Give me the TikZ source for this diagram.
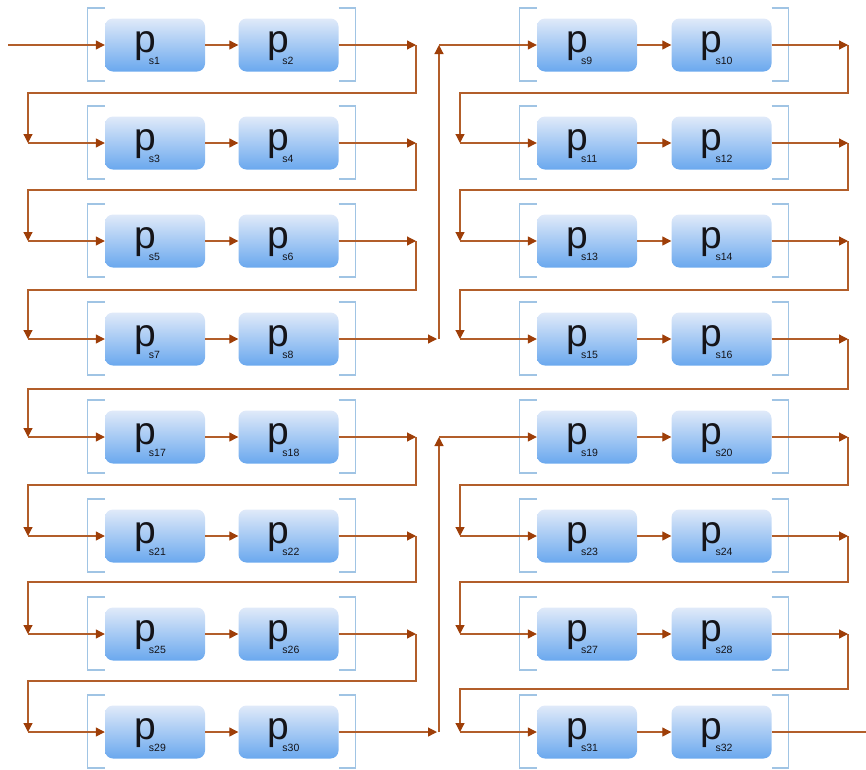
\documentclass[tikz,border=0pt]{standalone}
\usepackage{fontspec}
\setmainfont{Liberation Sans}
\usetikzlibrary{arrows.meta}
\definecolor{linec}{RGB}{178,94,42}
\definecolor{tipc}{RGB}{158,62,8}
\definecolor{brkc}{RGB}{160,196,228}
\definecolor{boxtop}{RGB}{224,234,249}
\definecolor{boxbot}{RGB}{106,168,238}
\definecolor{txtc}{RGB}{20,20,25}
\newcommand{\plabel}[1]{\makebox[0pt][l]{\kern-21pt\fontsize{39}{39}\selectfont p\kern-6.7pt\raisebox{-12pt}{\fontsize{10.5}{10.5}\selectfont s#1}}}
\begin{document}
\begin{tikzpicture}[x=1pt,y=-1pt,
  pbox/.style={rounded corners=8pt, minimum width=100pt, minimum height=53pt, inner sep=0pt,
    top color=boxtop, bottom color=boxbot, draw=none, text=txtc, text height=22pt, text depth=6.5pt},
  conn/.style={draw=linec, line width=1.2pt, -{Triangle[length=9pt,width=9pt,color=tipc]}},
  wire/.style={draw=linec, line width=1.2pt},
  brk/.style={draw=brkc, line width=1.1pt}]
\useasboundingbox (0,0) rectangle (866,769);

% boxes, brackets, in-row arrows
\foreach \y/\a/\b/\c/\d in {45/1/2/9/10, 143/3/4/11/12, 241/5/6/13/14, 339/7/8/15/16,
                            437/17/18/19/20, 536/21/22/23/24, 634/25/26/27/28, 732/29/30/31/32}{
  \node[pbox] (p\a) at (155,\y) {\plabel{\a}};
  \node[pbox] (p\b) at (288.5,\y) {\plabel{\b}};
  \node[pbox] (p\c) at (587,\y) {\plabel{\c}};
  \node[pbox] (p\d) at (721.5,\y) {\plabel{\d}};
  \draw[brk] ([yshift=37pt]p\a.west) -- ++(-17,0) -- ++(0,73) -- ++(17,0);
  \draw[brk] ([yshift=37pt]p\b.east) -- ++(17,0) -- ++(0,73) -- ++(-17,0);
  \draw[brk] ([yshift=37pt]p\c.west) -- ++(-17,0) -- ++(0,73) -- ++(17,0);
  \draw[brk] ([yshift=37pt]p\d.east) -- ++(17,0) -- ++(0,73) -- ++(-17,0);
  \draw[conn] (p\a) -- (p\b);
  \draw[conn] (p\c) -- (p\d);
}

% input
\coordinate (in) at (8,45);
\draw[conn] (in) -- (p1);

% left column turns
\foreach \y/\r/\n/\b/\a in {45/93/143/2/3, 143/190/241/4/5, 241/290/339/6/7,
                            437/485/536/18/21, 536/582/634/22/25, 634/681/732/26/29}{
  \coordinate (e\b) at (416,\y);
  \coordinate (r\b) at (416,\r);
  \coordinate (t\a) at (28,\n);
  \draw[conn] (p\b) -- (e\b);
  \draw[conn] (e\b) -- (r\b) -| (t\a);
  \draw[conn] (t\a) -- (p\a);
}

% right column turns
\foreach \y/\r/\n/\b/\a in {45/93/143/10/11, 143/190/241/12/13, 241/290/339/14/15,
                            437/485/536/20/23, 536/582/634/24/27, 634/689/732/28/31}{
  \coordinate (e\b) at (848,\y);
  \coordinate (r\b) at (848,\r);
  \coordinate (t\a) at (460,\n);
  \draw[conn] (p\b) -- (e\b);
  \draw[conn] (e\b) -- (r\b) -| (t\a);
  \draw[conn] (t\a) -- (p\a);
}

% s8 -> s9 (up)
\coordinate (e8) at (437,339);
\coordinate (u8) at (439,339);
\coordinate (t9) at (439,45);
\draw[conn] (p8) -- (e8);
\draw[conn] (u8) -- (t9);
\draw[conn] (t9) -- (p9);

% s16 -> s17
\coordinate (e16) at (848,339);
\coordinate (r16) at (848,389);
\coordinate (t17) at (28,437);
\draw[conn] (p16) -- (e16);
\draw[conn] (e16) -- (r16) -| (t17);
\draw[conn] (t17) -- (p17);

% s30 -> s19 (up)
\coordinate (e30) at (437,732);
\coordinate (u30) at (439,732);
\coordinate (t19) at (439,437);
\draw[conn] (p30) -- (e30);
\draw[conn] (u30) -- (t19);
\draw[conn] (t19) -- (p19);

% output
\coordinate (out) at (866,732);
\draw[wire] (p32) -- (out);
\end{tikzpicture}
\end{document}
